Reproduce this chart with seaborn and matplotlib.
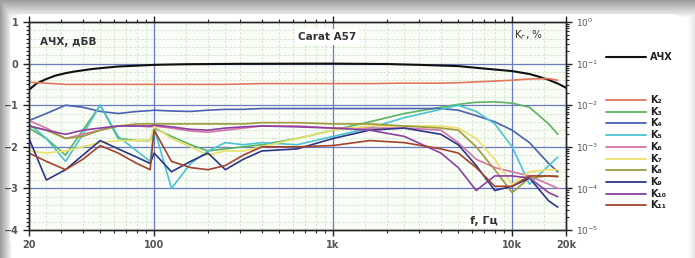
import numpy as np
import pandas as pd
import matplotlib
matplotlib.use("Agg")
import matplotlib.pyplot as plt
import seaborn as sns
from matplotlib.patches import FancyBboxPatch
from matplotlib.lines import Line2D
from matplotlib.ticker import FixedLocator, NullFormatter, LogLocator, MultipleLocator, FixedFormatter

sns.set_theme(style="white")
plt.rcParams["font.family"] = ["DejaVu Sans"]

# ---------------- data ----------------
# frequency response (АЧХ), dBV
afc_freq = [20, 22, 25, 28, 32, 36, 45, 53, 63, 80, 100, 150, 300, 1000, 2000, 3000,
            5000, 7000, 10000, 12500, 14000, 16000, 18000, 20000]
afc_level = [-0.63, -0.48, -0.37, -0.29, -0.23, -0.19, -0.13, -0.10, -0.07, -0.05, -0.03,
             -0.015, -0.005, 0.0, -0.01, -0.03, -0.06, -0.12, -0.18, -0.25, -0.31, -0.39,
             -0.48, -0.58]

# harmonic levels, log10 of K in %
harm_freq = [20, 25, 32, 40, 50, 63, 80, 95, 100, 125, 160, 200, 250, 315, 400, 630, 1000,
             1600, 2500, 4000, 5000, 6300, 8000, 10000, 12500, 16000, 18000]
k2 = [-1.45, -1.47, -1.50, -1.50, -1.50, -1.50, -1.50, -1.50, -1.50, -1.50, -1.50, -1.50,
      -1.50, -1.49, -1.48, -1.48, -1.48, -1.48, -1.47, -1.47, -1.46, -1.44, -1.42, -1.40,
      -1.37, -1.36, -1.40]
k3 = [-2.55, -2.80, -3.20, -2.60, -2.00, -2.80, -2.85, -2.85, -2.55, -2.75, -2.95, -3.10,
      -3.05, -3.00, -2.95, -2.80, -2.60, -2.40, -2.20, -2.05, -1.98, -1.93, -1.92, -1.95,
      -2.05, -2.45, -2.70]
k4 = [-2.37, -2.20, -2.00, -2.05, -2.15, -2.20, -2.15, -2.13, -2.12, -2.14, -2.15, -2.12,
      -2.10, -2.10, -2.08, -2.08, -2.08, -2.08, -2.08, -2.08, -2.12, -2.25, -2.40, -2.60,
      -2.90, -3.40, -3.60]
k5 = [-2.45, -2.80, -3.35, -2.70, -2.00, -2.75, -3.10, -3.35, -2.55, -4.00, -3.40, -3.10,
      -2.90, -2.95, -2.90, -2.95, -2.75, -2.55, -2.30, -2.10, -2.00, -2.15, -2.45, -3.00,
      -3.90, -3.45, -3.25]
k6 = [-2.37, -2.55, -2.80, -2.70, -2.60, -2.50, -2.50, -2.52, -2.50, -2.55, -2.62, -2.65,
      -2.60, -2.55, -2.50, -2.50, -2.55, -2.55, -2.55, -2.60, -2.90, -3.30, -3.50, -3.60,
      -3.70, -3.90, -4.00]
k7 = [-3.10, -3.15, -3.10, -3.00, -2.90, -2.85, -2.85, -2.85, -2.50, -2.80, -3.00, -3.20,
      -3.10, -3.10, -3.00, -2.80, -2.60, -2.50, -2.50, -2.50, -2.55, -2.80, -3.30, -3.90,
      -3.60, -3.55, -3.55]
k8 = [-2.50, -2.60, -2.80, -2.75, -2.60, -2.50, -2.45, -2.45, -2.45, -2.45, -2.45, -2.45,
      -2.45, -2.45, -2.42, -2.42, -2.45, -2.45, -2.50, -2.55, -2.60, -3.00, -3.55, -4.10,
      -3.75, -3.70, -3.70]
k9 = [-2.80, -3.80, -3.55, -3.20, -2.85, -3.05, -3.25, -3.40, -3.15, -3.60, -3.35, -3.15,
      -3.55, -3.30, -3.10, -3.05, -2.80, -2.60, -2.55, -2.70, -2.95, -3.45, -4.05, -3.95,
      -3.75, -4.30, -4.45]
k10 = [-2.50, -2.60, -2.70, -2.60, -2.55, -2.50, -2.50, -2.50, -2.48, -2.52, -2.58, -2.60,
       -2.55, -2.52, -2.50, -2.52, -2.55, -2.60, -2.75, -3.15, -3.50, -4.05, -3.70, -3.70,
       -3.75, -4.10, -4.20]
k11 = [-3.15, -3.35, -3.55, -3.30, -2.97, -3.15, -3.40, -3.55, -2.60, -3.35, -3.50, -3.55,
       -3.45, -3.20, -3.00, -3.00, -2.97, -2.85, -2.90, -3.05, -3.15, -3.50, -3.95, -3.95,
       -3.70, -3.70, -3.72]

harm_names = ["K2", "K3", "K4", "K5", "K6", "K7", "K8", "K9", "K10", "K11"]
harm_labels = ["K₂", "K₃", "K₄", "K₅", "K₆", "K₇", "K₈", "K₉", "K₁₀", "K₁₁"]
harm_colors = ["#e2785c", "#5cb461", "#4a62b0", "#4cc3d2", "#d673aa", "#ece06a",
               "#9d9b3e", "#2d3589", "#8a40a2", "#a3432e"]
harm_series = [k2, k3, k4, k5, k6, k7, k8, k9, k10, k11]

rows = []
for name, vals in zip(harm_names, harm_series):
    for f, v in zip(harm_freq, vals):
        rows.append({"freq": f, "K": 10.0 ** v, "harm": name})
harm_df = pd.DataFrame(rows)
afc_df = pd.DataFrame({"freq": afc_freq, "level": afc_level})

# ---------------- figure ----------------
W, H = 695, 258
fig = plt.figure(figsize=(W / 100, H / 100), dpi=100)
fig.patch.set_facecolor("white")

# background frame
bg = fig.add_axes([0, 0, 1, 1], zorder=-5)
bg.set_xlim(0, W)
bg.set_ylim(H, 0)
bg.axis("off")
yy, xx = np.mgrid[0:H, 0:W]
shade = np.minimum(np.clip(yy / 18.0, 0, 1), np.clip(xx / 12.0, 0, 1))
shade = np.minimum(shade, np.clip((W - xx) / 8.0, 0, 1) * 0.3 + 0.7)
img = 0.62 + 0.38 * shade
bg.imshow(img, cmap="gray", vmin=0, vmax=1, extent=(0, W, H, 0), aspect="auto")
bg.add_patch(FancyBboxPatch((10, 14), W - 20, H - 20,
                            boxstyle="round,pad=0,rounding_size=14",
                            facecolor="white", edgecolor="none"))

ax = fig.add_axes([29 / W, 1 - 230 / H, (566 - 29) / W, (230 - 22) / H])
ax.set_facecolor("#f9fcf7")
ax.set_xscale("log")
ax.set_xlim(20, 20000)
ax.set_ylim(-4, 1)

# light grid
for yv in np.arange(-4, 1.01, 0.2):
    ax.axhline(yv, color="#cfe6c6", lw=0.6, ls=(0, (3, 2)), zorder=0)
minor_x = [m * 10 ** e for e in range(1, 5) for m in [1.5, 2, 2.5, 3, 4, 5, 6, 7, 8, 9]]
for xv in minor_x:
    if 20 < xv < 20000:
        ax.axvline(xv, color="#cfe6c6", lw=0.6, ls=(0, (3, 2)), zorder=0)
for yv in [0, -1, -2, -3]:
    ax.axhline(yv, color="#6a7cc0", lw=0.9, zorder=1)
for xv in [100, 1000, 10000]:
    ax.axvline(xv, color="#6a7cc0", lw=0.9, zorder=1)

# АЧХ
sns.lineplot(data=afc_df, x="freq", y="level", ax=ax, color="#111111", lw=1.5,
             estimator=None, legend=False, zorder=5)
ax.set_xlim(20, 20000)
ax.set_ylim(-4, 1)

# harmonics on the right log axis
ax2 = ax.twinx()
ax2.set_yscale("log")
sns.lineplot(data=harm_df, x="freq", y="K", hue="harm", hue_order=harm_names,
             palette=dict(zip(harm_names, harm_colors)), ax=ax2, lw=1.2,
             estimator=None, legend=False)
ax2.set_xscale("log")
ax2.set_xlim(20, 20000)
ax2.set_ylim(1e-5, 1)

tick_color = "#555555"
ax.set_xlabel("")
ax.set_ylabel("")
ax2.set_ylabel("")
ax.xaxis.set_major_locator(FixedLocator([20, 100, 1000, 10000, 20000]))
ax.xaxis.set_major_formatter(FixedFormatter(["20", "100", "1k", "10k", "20k"]))
ax.xaxis.set_minor_locator(FixedLocator([m * 10 ** e for e in range(1, 5) for m in range(2, 10)
                                         if 20 < m * 10 ** e < 20000]))
ax.xaxis.set_minor_formatter(NullFormatter())
ax.yaxis.set_major_locator(MultipleLocator(1))
ax.yaxis.set_minor_locator(MultipleLocator(0.1))
ax.tick_params(axis="both", which="major", direction="out", length=4, width=1,
               colors="#222222", labelcolor=tick_color, labelsize=7, top=True, bottom=True)
ax.tick_params(axis="both", which="minor", direction="out", length=2.5, width=0.8,
               colors="#222222", top=True, bottom=True)
ax.tick_params(axis="x", which="both", labeltop=False)
ax2.yaxis.set_major_locator(LogLocator(base=10, numticks=10))
ax2.yaxis.set_minor_locator(LogLocator(base=10, subs=np.arange(2, 10), numticks=10))
ax2.yaxis.set_minor_formatter(NullFormatter())
ax2.tick_params(axis="y", which="major", direction="out", length=4, width=1,
                colors="#222222", labelcolor=tick_color, labelsize=6.5)
ax2.tick_params(axis="y", which="minor", direction="out", length=2.5, width=0.8,
                colors="#222222")
for lab in ax.get_xticklabels() + ax.get_yticklabels():
    lab.set_fontweight("bold")
for a in (ax, ax2):
    for s in a.spines.values():
        s.set_color("#222222")
        s.set_linewidth(1.0)
        s.set_visible(True)

# annotations
ax.text(0.02, 0.93, "АЧХ, дБВ", transform=ax.transAxes, fontsize=7.5, fontweight="bold",
        color="#333333", va="top", ha="left", zorder=10)
fig.text(327 / W, 1 - 37 / H, "Carat A57", fontsize=7.5, fontweight="bold",
         color="#333333", ha="center", va="center",
         bbox=dict(facecolor="white", edgecolor="none", pad=2))
fig.text(514 / W, 1 - 35 / H, "K$_{г}$, %", fontsize=7.5, color="#333333",
         ha="left", va="center")
fig.text(470 / W, 1 - 221 / H, "f, Гц", fontsize=8, fontweight="bold",
         color="#333333", ha="left", va="center",
         bbox=dict(facecolor="white", edgecolor="none", pad=1))

# legend (manual)
leg_x0, leg_x1, leg_tx = 606 / W, 646 / W, 650 / W
fig.add_artist(Line2D([leg_x0, leg_x1], [1 - 57 / H] * 2, color="#111111", lw=1.5))
fig.text(leg_tx, 1 - 57 / H, "АЧХ", fontsize=7, fontweight="bold", color="#222222",
         va="center", ha="left")
for i, (lab, c) in enumerate(zip(harm_labels, harm_colors)):
    ypx = 100 + i * 11.7
    fig.add_artist(Line2D([leg_x0, leg_x1], [1 - ypx / H] * 2, color=c, lw=1.3))
    fig.text(leg_tx, 1 - ypx / H, lab, fontsize=7, fontweight="bold", color="#222222",
             va="center", ha="left")

fig.savefig("out.png", dpi=100)
